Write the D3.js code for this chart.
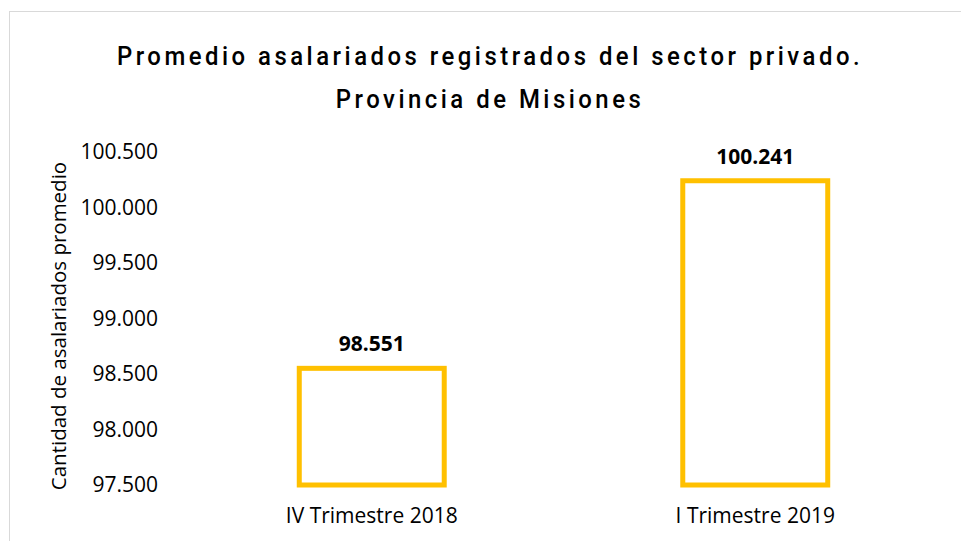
<!DOCTYPE html>
<html>
<head>
<meta charset="utf-8">
<script src="https://cdn.jsdelivr.net/npm/d3@7"></script>
<style>
  html, body { margin: 0; padding: 0; background: #fff; }
  svg { display: block; }
</style>
</head>
<body>
<svg id="graph"></svg>
<script>
const categories = ["IV Trimestre 2018", "I Trimestre 2019"];
const values = [98551, 100241];
const tickValues = [97500, 98000, 98500, 99000, 99500, 100000, 100500];
const titleLines = ["Promedio asalariados registrados del sector privado.", "Provincia de Misiones"];
const yTitle = "Cantidad de asalariados promedio";

const width = 961;
const height = 541;
const fmt = (v) => d3.format(",")(v).replace(/,/g, ".");

const svg = d3.select("#graph").attr("width", width).attr("height", height);

// chart frame, cut by the window on the right and bottom
svg.append("rect")
  .attr("x", 9.5).attr("y", 11.5)
  .attr("width", 1000).attr("height", 600)
  .attr("fill", "#fff")
  .attr("stroke", "#d9d9d9")
  .attr("stroke-width", 1);

const x = d3.scaleBand()
  .domain(categories)
  .range([180, 947])
  .paddingInner(0.622)
  .paddingOuter(0.311);

const y = d3.scaleLinear()
  .domain([97500, 100500])
  .range([485, 152]);

// title (squeezed horizontally to look like the condensed original)
svg.append("g")
  .attr("transform", "translate(490,0) scale(0.92,1)")
  .selectAll("text")
  .data(titleLines)
  .join("text")
  .attr("x", 0)
  .attr("y", (d, i) => 65 + i * 43)
  .attr("text-anchor", "middle")
  .attr("font-family", "Roboto, 'Open Sans', sans-serif")
  .attr("font-weight", 500)
  .attr("font-size", 26)
  .attr("letter-spacing", 3.8)
  .attr("fill", "#000")
  .text((d) => d);

// y axis labels
svg.append("g")
  .attr("transform", "translate(158,0)")
  .call(d3.axisLeft(y).tickValues(tickValues).tickSize(0).tickPadding(0).tickFormat(fmt))
  .call((g) => g.select(".domain").remove())
  .call((g) => g.selectAll("text")
    .attr("font-family", "'Open Sans', sans-serif")
    .attr("font-size", 21)
    .attr("fill", "#000"));

svg.append("text")
  .attr("transform", "translate(66,326) rotate(-90)")
  .attr("text-anchor", "middle")
  .attr("font-family", "'Open Sans', sans-serif")
  .attr("font-size", 20.5)
  .attr("fill", "#000")
  .text(yTitle);

// bars
svg.append("g")
  .selectAll("rect")
  .data(values)
  .join("rect")
  .attr("x", (d, i) => x(categories[i]))
  .attr("y", (d) => y(d))
  .attr("width", x.bandwidth())
  .attr("height", (d) => y(97500) - y(d))
  .attr("fill", "none")
  .attr("stroke", "#ffc000")
  .attr("stroke-width", 5);

// data labels
svg.append("g")
  .selectAll("text")
  .data(values)
  .join("text")
  .attr("x", (d, i) => x(categories[i]) + x.bandwidth() / 2)
  .attr("y", (d) => y(d) - 17)
  .attr("text-anchor", "middle")
  .attr("font-family", "'Open Sans', sans-serif")
  .attr("font-weight", 700)
  .attr("font-size", 21)
  .attr("fill", "#000")
  .text(fmt);

// category labels
svg.append("g")
  .selectAll("text")
  .data(categories)
  .join("text")
  .attr("x", (d) => x(d) + x.bandwidth() / 2)
  .attr("y", 523)
  .attr("text-anchor", "middle")
  .attr("font-family", "'Open Sans', sans-serif")
  .attr("font-size", 21)
  .attr("fill", "#000")
  .text((d) => d);
</script>
</body>
</html>
